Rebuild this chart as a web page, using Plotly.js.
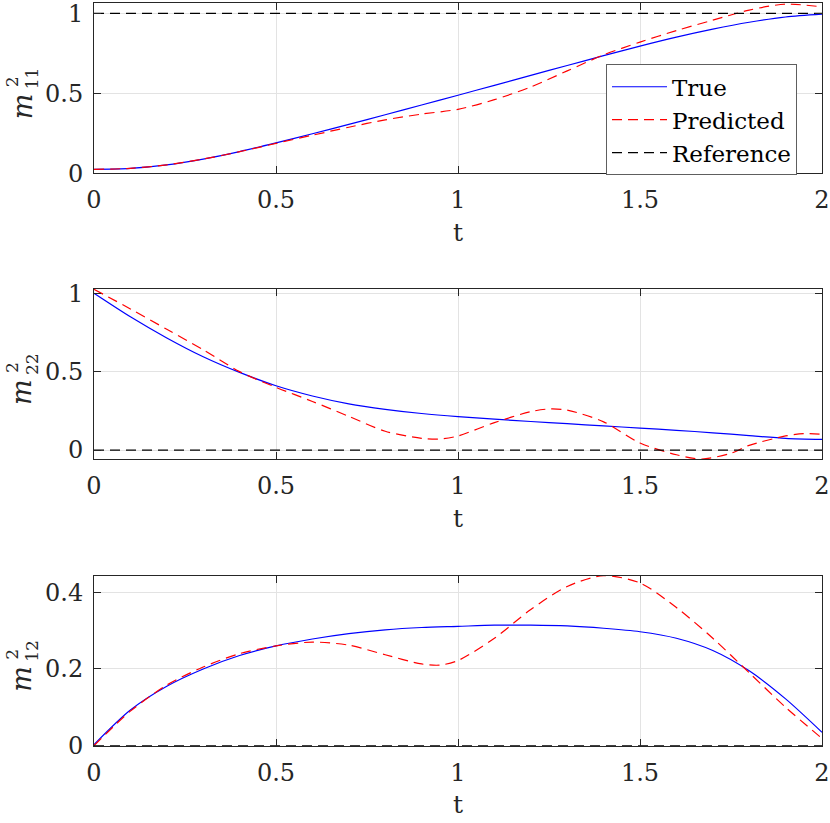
<!DOCTYPE html>
<html>
<head>
<meta charset="utf-8">
<script src="https://cdn.plot.ly/plotly-3.0.1.min.js"></script>
<style>
  html, body { margin: 0; padding: 0; background: #fff; }
  #plot { width: 830px; height: 823px; }
</style>
</head>
<body>
<div id="plot"></div>
<script>
// m11^2
let t11 = [0, 0.1, 0.2, 0.3, 0.4, 0.5, 0.6, 0.7, 0.8, 0.9, 1.0, 1.1, 1.2, 1.3, 1.4, 1.5, 1.6, 1.7, 1.8, 1.9, 2.0];
let true11 = [0.025, 0.031, 0.053, 0.089, 0.136, 0.19, 0.247, 0.306, 0.366, 0.427, 0.488, 0.55, 0.612, 0.674, 0.735, 0.795, 0.851, 0.901, 0.944, 0.977, 0.995];
let tPred11 = [0, 0.1, 0.2, 0.3, 0.4, 0.5, 0.6, 0.7, 0.8, 0.9, 1.0, 1.1, 1.2, 1.3, 1.4, 1.5, 1.6, 1.7, 1.8, 1.9, 2.0];
let pred11 = [0.025, 0.031, 0.053, 0.089, 0.135, 0.187, 0.238, 0.288, 0.334, 0.37, 0.40, 0.46, 0.54, 0.64, 0.74, 0.82, 0.892, 0.957, 1.02, 1.057, 1.04];
let ref11 = 1;

// m22^2
let t22 = [0, 0.1, 0.2, 0.3, 0.4, 0.5, 0.6, 0.7, 0.8, 0.9, 1.0, 1.1, 1.2, 1.3, 1.4, 1.5, 1.6, 1.7, 1.8, 1.9, 2.0];
let true22 = [1.0, 0.85, 0.715, 0.595, 0.495, 0.41, 0.345, 0.295, 0.26, 0.233, 0.213, 0.197, 0.182, 0.168, 0.154, 0.14, 0.126, 0.11, 0.092, 0.075, 0.068];
let tPred22 = [0, 0.1, 0.2, 0.3, 0.4, 0.5, 0.6, 0.7, 0.8, 0.9, 0.95, 1.0, 1.1, 1.2, 1.25, 1.3, 1.4, 1.5, 1.6, 1.67, 1.75, 1.8, 1.9, 1.95, 2.0];
let pred22 = [1.025, 0.9, 0.77, 0.64, 0.5, 0.4, 0.31, 0.215, 0.12, 0.075, 0.07, 0.09, 0.175, 0.245, 0.262, 0.255, 0.18, 0.045, -0.03, -0.057, -0.02, 0.03, 0.09, 0.105, 0.1];
let ref22 = 0;

// m12^2
let t12 = [0, 0.1, 0.2, 0.3, 0.4, 0.5, 0.6, 0.7, 0.8, 0.9, 1.0, 1.1, 1.2, 1.3, 1.4, 1.5, 1.6, 1.7, 1.8, 1.9, 2.0];
let true12 = [0.003, 0.093, 0.155, 0.2, 0.235, 0.26, 0.278, 0.292, 0.302, 0.308, 0.311, 0.314, 0.314, 0.312, 0.306, 0.297, 0.28, 0.248, 0.195, 0.122, 0.035];
let tPred12 = [0, 0.1, 0.2, 0.3, 0.4, 0.5, 0.6, 0.7, 0.8, 0.9, 0.95, 1.0, 1.1, 1.2, 1.3, 1.4, 1.5, 1.6, 1.7, 1.8, 1.9, 2.0];
let pred12 = [0.0, 0.09, 0.158, 0.205, 0.24, 0.26, 0.27, 0.262, 0.237, 0.213, 0.21, 0.222, 0.28, 0.355, 0.415, 0.443, 0.424, 0.36, 0.28, 0.19, 0.1, 0.019];
let ref12 = 0;

let xTicks = [0, 0.5, 1, 1.5, 2];
let xTickText = ['0', '0.5', '1', '1.5', '2'];

let W = 830, H = 823;
let ink = '#262626';
let fontFam = 'DejaVu Serif, serif';

// pixel boxes of the three axes: [top, bottom]
let boxes = [[3.3, 173.3], [289, 459], [575.7, 745.7]];
let xLeft = 94, xRight = 822;

function yDom(b) { return [1 - b[1] / H, 1 - b[0] / H]; }

function xAxis(anchor) {
  return {
    domain: [xLeft / W, xRight / W], anchor: anchor, range: [0, 2],
    tickvals: xTicks, ticktext: xTickText,
    ticks: 'inside', ticklen: 7, tickcolor: ink, tickwidth: 1,
    showline: true, linecolor: ink, linewidth: 1, mirror: 'ticks',
    showgrid: true, gridcolor: '#e3e3e3', gridwidth: 1, zeroline: false,
    ticklabelstandoff: 5, ticklabeloverflow: 'allow',
    tickfont: {family: fontFam, size: 24, color: ink}
  };
}

function yAxis(anchor, b, range, vals, text) {
  return {
    domain: yDom(b), anchor: anchor, range: range,
    tickvals: vals, ticktext: text,
    ticks: 'inside', ticklen: 7, tickcolor: ink, tickwidth: 1,
    showline: true, linecolor: ink, linewidth: 1, mirror: 'ticks',
    showgrid: true, gridcolor: '#e3e3e3', gridwidth: 1, zeroline: false,
    ticklabelstandoff: 5, ticklabeloverflow: 'allow',
    tickfont: {family: fontFam, size: 24, color: ink}
  };
}

function series(x, y, ax, name, color, dash, show) {
  return {
    x: x, y: y, xaxis: ax[0], yaxis: ax[1], name: name, type: 'scatter', mode: 'lines',
    line: {color: color, width: 1.2, dash: dash, shape: 'spline', smoothing: 0.8},
    showlegend: show
  };
}

function refLine(val, ax, show) {
  return {
    x: [0, 2], y: [val, val], xaxis: ax[0], yaxis: ax[1], name: 'Reference',
    type: 'scatter', mode: 'lines', line: {color: '#000000', width: 1.2, dash: '10px,6px'},
    showlegend: show
  };
}

let redDash = '10px,6px';
let data = [
  series(t11, true11, ['x', 'y'], 'True', '#0000ff', 'solid', true),
  series(tPred11, pred11, ['x', 'y'], 'Predicted', '#ff0000', redDash, true),
  refLine(ref11, ['x', 'y'], true),
  series(t22, true22, ['x2', 'y2'], 'True', '#0000ff', 'solid', false),
  series(tPred22, pred22, ['x2', 'y2'], 'Predicted', '#ff0000', redDash, false),
  refLine(ref22, ['x2', 'y2'], false),
  series(t12, true12, ['x3', 'y3'], 'True', '#0000ff', 'solid', false),
  series(tPred12, pred12, ['x3', 'y3'], 'Predicted', '#ff0000', redDash, false),
  refLine(ref12, ['x3', 'y3'], false)
];

// axis titles as annotations (stacked sub/superscript)
let annotations = [];
let subs = ['11', '22', '12'];
boxes.forEach(function (b, i) {
  let mid = (b[0] + b[1]) / 2;
  annotations.push({xref: 'paper', yref: 'paper', x: 458 / W, y: 1 - (b[1] + 59) / H,
    text: 't', showarrow: false, xanchor: 'center', yanchor: 'middle',
    font: {family: fontFam, size: 25, color: ink}});
  annotations.push({xref: 'paper', yref: 'paper', x: 22 / W, y: 1 - (mid + 18) / H,
    text: '<i>m</i>', textangle: -90, showarrow: false, xanchor: 'center', yanchor: 'middle',
    font: {family: fontFam, size: 27, color: ink}});
  annotations.push({xref: 'paper', yref: 'paper', x: 12 / W, y: 1 - (mid - 6) / H,
    text: '2', textangle: -90, showarrow: false, xanchor: 'center', yanchor: 'middle',
    font: {family: fontFam, size: 17, color: ink}});
  annotations.push({xref: 'paper', yref: 'paper', x: 32 / W, y: 1 - (mid - 10) / H,
    text: subs[i], textangle: -90, showarrow: false, xanchor: 'center', yanchor: 'middle',
    font: {family: fontFam, size: 17, color: ink}});
});

let layout = {
  width: W, height: H,
  margin: {l: 0, r: 0, t: 0, b: 0},
  paper_bgcolor: '#ffffff', plot_bgcolor: '#ffffff',
  font: {family: fontFam, color: ink},
  xaxis: xAxis('y'), xaxis2: xAxis('y2'), xaxis3: xAxis('y3'),
  yaxis: yAxis('x', boxes[0], [0, 1.0625], [0, 0.5, 1], ['0', '0.5', '1']),
  yaxis2: yAxis('x2', boxes[1], [-0.057, 1.027], [0, 0.5, 1], ['0', '0.5', '1']),
  yaxis3: yAxis('x3', boxes[2], [0, 0.443], [0, 0.2, 0.4], ['0', '0.2', '0.4']),
  legend: {
    x: 606 / W, y: 1 - 64.3 / H, xanchor: 'left', yanchor: 'top',
    bgcolor: '#ffffff', bordercolor: '#5e5e5e', borderwidth: 1,
    font: {family: fontFam, size: 23, color: '#000000'},
    itemwidth: 55, tracegroupgap: 0
  },
  annotations: annotations,
  showlegend: true
};

Plotly.newPlot('plot', data, layout, {staticPlot: true});
</script>
</body>
</html>
